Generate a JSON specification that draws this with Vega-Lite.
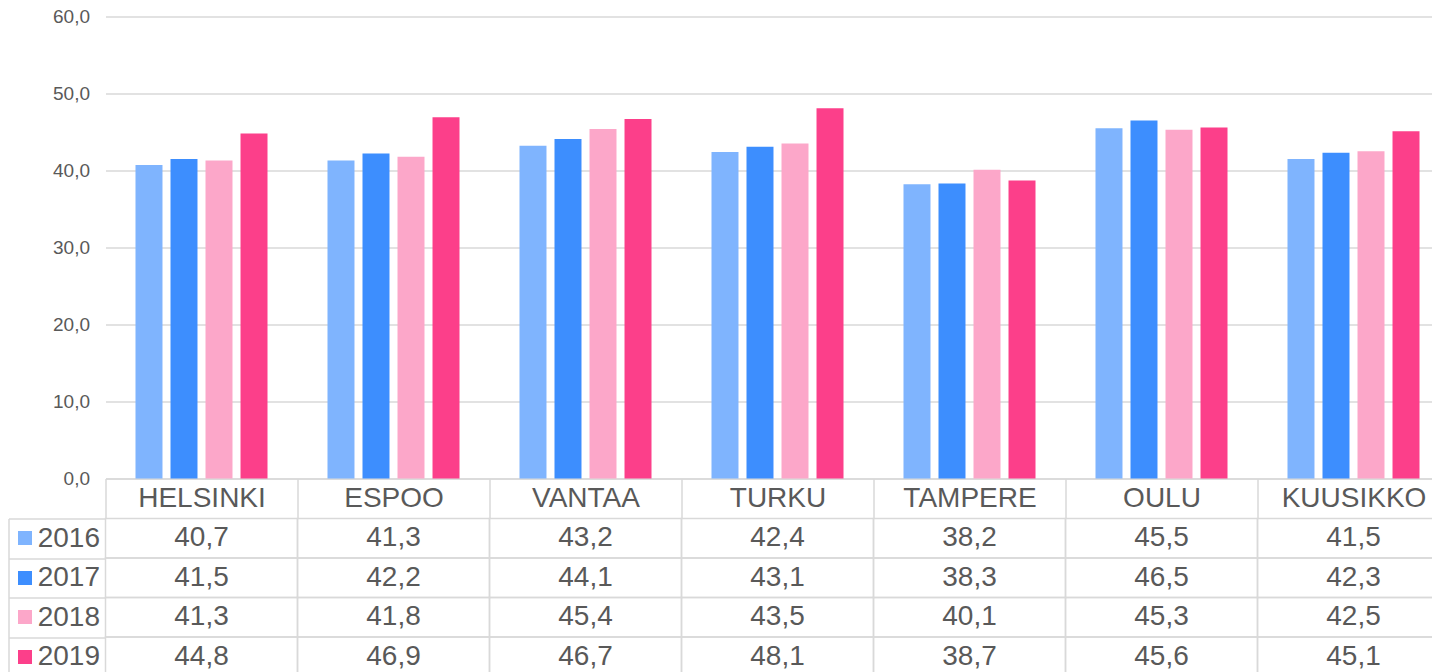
{
  "$schema": "https://vega.github.io/schema/vega-lite/v6.json",
  "padding": {"left": 7.5, "top": 7.5, "right": 0, "bottom": 0},
  "background": "white",
  "spacing": 40,
  "bounds": "flush",
  "config": {
    "view": {"stroke": null},
    "font": "Liberation Sans",
    "locale": {"number": {"decimal": ",", "thousands": " ", "grouping": [3], "currency": ["", " €"]}}
  },
  "data": {"values": [
    {"city": "HELSINKI", "year": "2016", "value": 40.7},
    {"city": "HELSINKI", "year": "2017", "value": 41.5},
    {"city": "HELSINKI", "year": "2018", "value": 41.3},
    {"city": "HELSINKI", "year": "2019", "value": 44.8},
    {"city": "ESPOO", "year": "2016", "value": 41.3},
    {"city": "ESPOO", "year": "2017", "value": 42.2},
    {"city": "ESPOO", "year": "2018", "value": 41.8},
    {"city": "ESPOO", "year": "2019", "value": 46.9},
    {"city": "VANTAA", "year": "2016", "value": 43.2},
    {"city": "VANTAA", "year": "2017", "value": 44.1},
    {"city": "VANTAA", "year": "2018", "value": 45.4},
    {"city": "VANTAA", "year": "2019", "value": 46.7},
    {"city": "TURKU", "year": "2016", "value": 42.4},
    {"city": "TURKU", "year": "2017", "value": 43.1},
    {"city": "TURKU", "year": "2018", "value": 43.5},
    {"city": "TURKU", "year": "2019", "value": 48.1},
    {"city": "TAMPERE", "year": "2016", "value": 38.2},
    {"city": "TAMPERE", "year": "2017", "value": 38.3},
    {"city": "TAMPERE", "year": "2018", "value": 40.1},
    {"city": "TAMPERE", "year": "2019", "value": 38.7},
    {"city": "OULU", "year": "2016", "value": 45.5},
    {"city": "OULU", "year": "2017", "value": 46.5},
    {"city": "OULU", "year": "2018", "value": 45.3},
    {"city": "OULU", "year": "2019", "value": 45.6},
    {"city": "KUUSIKKO", "year": "2016", "value": 41.5},
    {"city": "KUUSIKKO", "year": "2017", "value": 42.3},
    {"city": "KUUSIKKO", "year": "2018", "value": 42.5},
    {"city": "KUUSIKKO", "year": "2019", "value": 45.1}
  ]},
  "vconcat": [
    {
      "width": 1344,
      "height": 462,
      "mark": {"type": "bar"},
      "encoding": {
        "x": {
          "field": "city", "type": "nominal", "sort": null,
          "scale": {"paddingInner": 0, "paddingOuter": 0},
          "axis": {
            "title": null, "orient": "bottom", "grid": false,
            "domain": true, "domainColor": "#d9d9d9", "domainWidth": 1.5,
            "ticks": true, "tickBand": "extent", "tickSize": 40, "tickColor": "#d9d9d9", "tickWidth": 1.5,
            "labelFontSize": 28, "labelColor": "#595959", "labelPadding": -20,
            "labelBaseline": "middle", "labelAngle": 0, "labelOverlap": false, "labelLimit": 0
          }
        },
        "xOffset": {
          "field": "year", "type": "nominal", "sort": null,
          "scale": {"paddingInner": 0.229, "paddingOuter": 0.857}
        },
        "y": {
          "field": "value", "type": "quantitative",
          "scale": {"domain": [0, 60]},
          "axis": {
            "title": null, "values": [0, 10, 20, 30, 40, 50, 60], "format": ".1f",
            "domain": false, "ticks": false, "grid": true, "gridColor": "#d9d9d9", "gridWidth": 1.5,
            "labelFontSize": 19, "labelColor": "#595959", "labelPadding": 16
          }
        },
        "color": {
          "field": "year", "type": "nominal",
          "scale": {"domain": ["2016", "2017", "2018", "2019"], "range": ["#7fb4fe", "#3d8efe", "#fca7c9", "#fc3f8a"]},
          "legend": null
        }
      }
    },
    {
      "width": 1344,
      "height": 158,
      "layer": [
        {
          "mark": {"type": "rect", "fill": "transparent", "stroke": "#d9d9d9", "strokeWidth": 1.5},
          "encoding": {
            "x": {"field": "city", "type": "nominal", "sort": null, "scale": {"paddingInner": 0, "paddingOuter": 0}, "axis": null},
            "y": {
              "field": "year", "type": "nominal", "sort": null,
              "scale": {"paddingInner": 0, "paddingOuter": 0},
              "axis": {
                "orient": "left", "offset": 97, "title": null,
                "domain": true, "domainColor": "#d9d9d9", "domainWidth": 1.5,
                "ticks": true, "tickBand": "extent", "tickSize": -97, "tickColor": "#d9d9d9", "tickWidth": 1.5,
                "grid": false,
                "labelFontSize": 28, "labelColor": "#595959", "labelAlign": "right",
                "labelBaseline": "middle", "labelPadding": 6
              }
            }
          }
        },
        {
          "mark": {"type": "text", "fontSize": 28, "color": "#595959", "baseline": "middle", "align": "center"},
          "encoding": {
            "x": {"field": "city", "type": "nominal", "sort": null, "scale": {"paddingInner": 0, "paddingOuter": 0}, "axis": null},
            "y": {
              "field": "year", "type": "nominal", "sort": null,
              "scale": {"paddingInner": 0, "paddingOuter": 0},
              "axis": {
                "orient": "left", "offset": 0, "title": null,
                "domain": false, "labels": false, "grid": false,
                "ticks": true, "tickSize": 88, "tickWidth": 14, "tickDash": [0, 74, 15, 1000],
                "tickColor": {
                  "condition": [
                    {"test": "datum.value === '2016'", "value": "#7fb4fe"},
                    {"test": "datum.value === '2017'", "value": "#3d8efe"},
                    {"test": "datum.value === '2018'", "value": "#fca7c9"}
                  ],
                  "value": "#fc3f8a"
                }
              }
            },
            "text": {"field": "value", "type": "quantitative", "format": ".1f"}
          }
        }
      ],
      "resolve": {"axis": {"y": "independent"}}
    }
  ]
}
